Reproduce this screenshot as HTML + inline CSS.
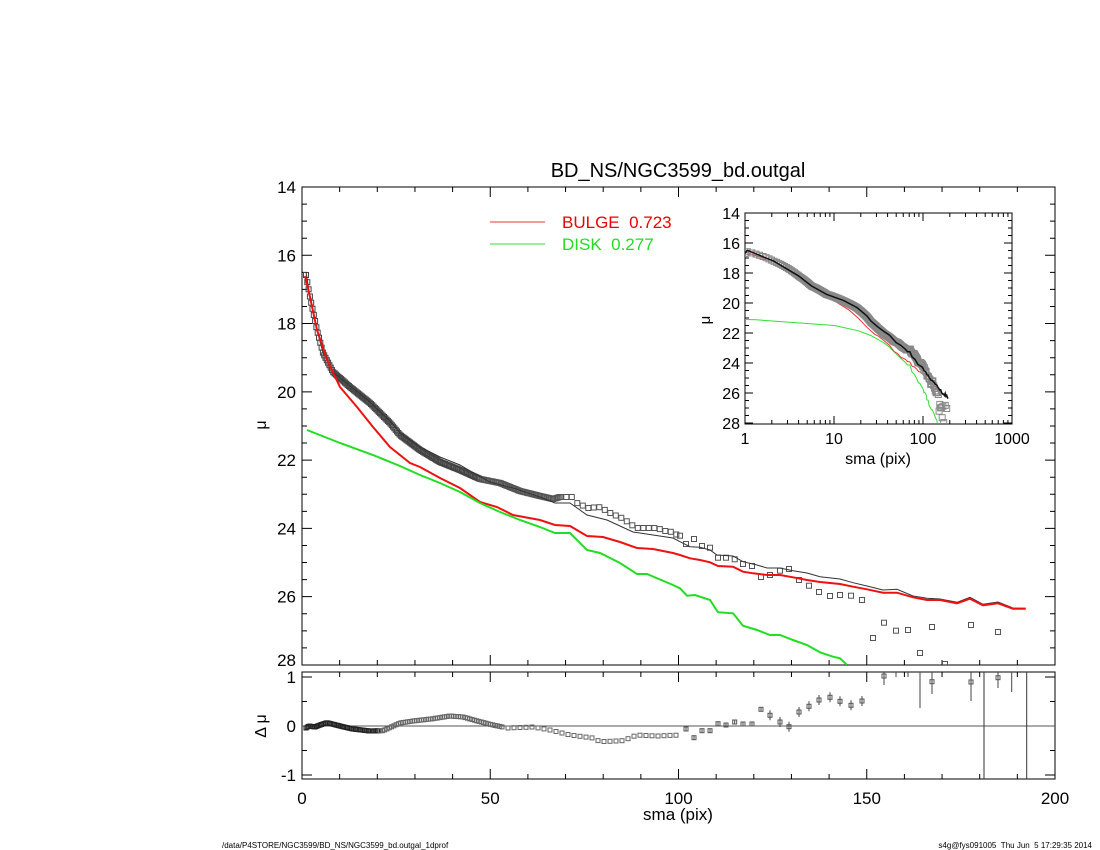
<!DOCTYPE html>
<html><head><meta charset="utf-8"><style>
html,body{margin:0;padding:0;background:#fff}
svg{display:block;font-family:"Liberation Sans",sans-serif}
</style></head><body>
<svg id="s" width="1100" height="850" viewBox="0 0 1100 850" xmlns="http://www.w3.org/2000/svg">
<text x="678" y="177" font-size="20" text-anchor="middle">BD_NS/NGC3599_bd.outgal</text>
<line x1="490" y1="222" x2="545" y2="222" stroke="#e33" stroke-width="1"/>
<text x="562" y="228" font-size="17" fill="#e00">BULGE&#160;&#160;0.723</text>
<line x1="490" y1="244" x2="545" y2="244" stroke="#3d3" stroke-width="1"/>
<text x="562" y="250" font-size="17" fill="#2d2">DISK&#160;&#160;0.277</text>
<text x="678" y="820" font-size="17" text-anchor="middle">sma (pix)</text>
<text x="266" y="425" font-size="16" text-anchor="middle" transform="rotate(-90 266 425)">μ</text>
<text x="266" y="726" font-size="16" text-anchor="middle" transform="rotate(-90 266 726)">Δ μ</text>
<text x="878" y="464" font-size="16" text-anchor="middle">sma (pix)</text>
<text x="710" y="320" font-size="15" text-anchor="middle" transform="rotate(-90 710 320)">μ</text>
<text x="222" y="848" font-size="8">/data/P4STORE/NGC3599/BD_NS/NGC3599_bd.outgal_1dprof</text>
<text x="1092" y="848" font-size="8" text-anchor="end">s4g@fys091005&#160;&#160;Thu Jun&#160;&#160;5 17:29:35 2014</text>
<g id="g"></g>
</svg>
<script>
var g=document.getElementById('g'),out='';
function X(r){return 302+r*3.765}function Y(m){return 187+(m-14)*34.14}
function iR(x){return (x-302)/3.765}function iM(y){return (y-187)/34.14+14}
function IX(r){return 745+89*Math.log10(r)}function IY(m){return 213+15*(m-14)}
function pl(p,c,w){out+='<polyline fill="none" stroke="'+c+'" stroke-width="'+w+'" points="'+p.map(function(a){return a[0].toFixed(1)+','+a[1].toFixed(1)}).join(' ')+'"/>';}
function sq(x,y,s,c){out+='<rect x="'+(x-s/2).toFixed(1)+'" y="'+(y-s/2).toFixed(1)+'" width="'+s+'" height="'+s+'" fill="none" stroke="'+c+'" stroke-width="1"/>';}
function interp(p,x){for(var i=0;i<p.length-1;i++){if(x>=p[i][0]&&x<=p[i+1][0]){var t=(x-p[i][0])/(p[i+1][0]-p[i][0]);return p[i][1]+t*(p[i+1][1]-p[i][1]);}}return null;}
var dat=[[306,275],[310,297],[317,330],[323,353],[333,372],[350,387],[370,403],[390,423],[400,435],[420,450],[440,462],[460,470],[480,479],[500,483],[520,491],[540,496],[553,499],[560,497],[572,497],[577,503],[588,508],[599,507],[605,510],[612,514],[617,516],[624,519],[630,524],[637,528],[657,528],[665,531],[672,532],[679,536]];
var dat2=[[680,535.7],[686,544],[694,539],[702,546],[710,547.7],[718,557.7],[726,557.7],[734.7,559.3],[743,564],[752,566],[761,577],[770,575],[780,570.7],[789,569],[799,580],[809,585.7],[819,592],[830,596],[840,595],[851,595.7],[862,600],[873,638],[884,622.7],[896,630.7],[908,630],[920,653],[932,627],[945,664],[971,625],[998,632]];
var blk=[[306,272],[310,297],[317,330],[323,353],[333,372],[350,386],[370,402],[390,421],[400,433],[420,447],[440,457],[460,465],[477,475],[490,482],[513,488],[540,497],[555,503],[570,503],[587,515],[607,520],[633,532],[653,535],[673,538],[680,541.7],[690,546.7],[700,547.3],[710,550],[717,555],[733,556],[743,561.7],[757,565],[767,568],[780,568],[793,570.7],[807,573],[820,576.7],[840,579],[853,582.7],[867,586],[883,590],[897,589.3],[913,596],[927,598.3],[940,599],[957,602.3],[970,597.3],[983,604.3],[998,602],[1013,608],[1025.7,608.3]];
var red=[[305,276],[310,297],[317,330],[327,360],[340,387],[357,407],[373,427],[390,447],[410,463],[420,467],[440,478],[460,488],[480,502],[497,507],[513,515],[540,520],[555,525],[570,526],[587,536],[603,537],[620,542],[637,548],[653,549],[673,553],[680,555],[690,558.3],[700,560],[710,562.3],[718,566],[733,566.7],[743,571.7],[753,573.3],[767,575],[780,575],[793,577.3],[807,580],[820,582],[840,584],[853,586.7],[867,589.3],[883,592.7],[897,592.7],[913,597.3],[927,600],[940,600],[957,603.3],[970,598.7],[983,605.3],[998,603.3],[1013,608.7],[1025.7,608.7]];
var grn=[[307,430],[340,443],[373,455],[400,466],[420,475],[440,483],[460,492],[480,503],[500,512],[520,520],[540,527],[555,533],[570,533],[587,550],[600,553],[620,563],[637,574],[647,574],[673,585],[680,588.3],[687,595.7],[695,595],[710,600],[718,612.3],[733,613.3],[743,625.7],[757,630],[770,635],[780,635],[793,640],[807,645],[820,652.3],[833,656.7],[840,658.3],[847,665]];
out+='<defs><clipPath id="cm"><rect x="302" y="187" width="753" height="478"/></clipPath><clipPath id="ci"><rect x="745" y="213" width="267" height="211"/></clipPath></defs>';
function frame(x0,y0,x1,y1){out+='<rect x="'+x0+'" y="'+y0+'" width="'+(x1-x0)+'" height="'+(y1-y0)+'" fill="none" stroke="#000" stroke-width="1"/>';}
frame(302,187,1055,665);frame(302,672,1055,779);frame(745,213,1012,424);
var t='';
for(var r=0;r<=200;r+=10){var x=X(r),L=(r%50==0)?10:5;
 t+='M'+x+' 665v-'+L+'M'+x+' 187v'+L+'M'+x+' 779v-'+L+'M'+x+' 672v'+L;}
for(var m=14;m<=28;m+=0.5){var y=Y(m),L=(m%2==0)?10:5;t+='M302 '+y+'h'+L+'M1055 '+y+'h-'+L;}
for(var d=-1;d<=1;d+=0.5){var y=726-d*49,L=(d%1==0)?10:5;t+='M302 '+y+'h'+L+'M1055 '+y+'h-'+L;}
for(var dec=0;dec<3;dec++)for(var k=1;k<10;k++){var x=IX(k*Math.pow(10,dec)),L=k==1?8:4;t+='M'+x+' 424v-'+L+'M'+x+' 213v'+L;}
for(var m=14;m<=28;m+=0.5){var y=IY(m),L=(m%2==0)?8:4;t+='M745 '+y+'h'+L+'M1012 '+y+'h-'+L;}
out+='<path d="'+t+'" stroke="#000" stroke-width="1" fill="none"/>';
var lab='';
[0,50,100,150,200].forEach(function(r){lab+='<text x="'+X(r)+'" y="804" font-size="17" text-anchor="middle">'+r+'</text>';});
for(var m=14;m<=28;m+=2){var yy=Y(m)+6;if(m==28)yy=Y(m)+1;lab+='<text x="296" y="'+yy+'" font-size="17" text-anchor="end">'+m+'</text>';}
[[1,726-49],[0,726],[-1,726+49]].forEach(function(a){lab+='<text x="296" y="'+(a[1]+6)+'" font-size="17" text-anchor="end">'+a[0]+'</text>';});
for(var m=14;m<=28;m+=2)lab+='<text x="740" y="'+(IY(m)+6)+'" font-size="16" text-anchor="end">'+m+'</text>';
[[1,'1'],[10,'10'],[100,'100'],[1000,'1000']].forEach(function(a){lab+='<text x="'+IX(a[0])+'" y="444" font-size="16" text-anchor="middle">'+a[1]+'</text>';});
out+=lab;
out+='<g clip-path="url(#cm)">';
for(var x=306;x<=679;x+=(x<560?1.3:5.5)){var y=interp(dat,x);if(y!=null)sq(x,y,5,x<480?'#444':'#555');}
dat2.forEach(function(p){sq(p[0],p[1],5,'#555');});
pl(blk,'#333',1);pl(red,'#e11',2);pl(grn,'#2d2',2);
out+='</g>';
function conv(p){return p.map(function(a){var r=iR(a[0]);if(r<1)r=1;return [IX(r),IY(iM(a[1]))];});}
out+='<g clip-path="url(#ci)">';
var ig=conv(grn);ig.unshift([IX(1),IY(21.1)]);
pl(ig,'#3d3',1);
var ir=conv(red);ir.unshift([IX(1),IY(16.75)]);pl(ir,'#e33',1);
var idat=[[IX(1),IY(16.7)]];
for(var x=306;x<=679;x+=0.5){var y=interp(dat,x);idat.push([IX(iR(x)),IY(iM(y))]);}
idat.forEach(function(p){sq(p[0],p[1],6,'#888');});
conv(dat2).forEach(function(p){sq(p[0],p[1],6,'#888');});
var ib=conv(blk);ib.unshift([IX(1),IY(16.7)]);pl(ib,'#111',1.5);
out+='</g>';
out+='<line x1="302" y1="726" x2="1055" y2="726" stroke="#555" stroke-width="1"/>';
var res=[[306,728],[309,726],[315,727],[320,725],[327,722.7],[340,726],[353,729],[370,731],[383,730.7],[400,723],[413,721],[433,718.7],[450,716],[463,717],[480,721.7],[493,725],[507,728],[533,727],[550,730],[570,735],[593,738],[600,741.7],[623,740.7],[637,735],[657,736],[680,735]];
for(var x=306;x<=680;x+=(x<380?1.3:(x<500?2.3:6))){var y=interp(res,x);if(y!=null)sq(x,y,4,x<380?'#222':'#666');}
var res2=[[686,729],[694,737.7],[702,730.7],[710,730.7],[718,723.7],[726,725],[734.7,722],[743,724],[752,724],[761,709.3],[770,715.3],[780,722],[789,726.7],[799,712],[809,706.3],[819,700],[830,697.3],[840,701.3],[851,705.3],[862,701]];
res2.forEach(function(p,i){var e=i<10?2:5;out+='<line x1="'+p[0]+'" y1="'+(p[1]-e)+'" x2="'+p[0]+'" y2="'+(p[1]+e)+'" stroke="#444"/>';sq(p[0],p[1],4,'#555');});
var bars=[[884,672,685],[896,672,677],[908,672,677],[920,672,708],[932,672,694],[971,672,701],[998,672,688],[1011.7,672,692]];
bars.forEach(function(b){out+='<line x1="'+b[0]+'" y1="'+b[1]+'" x2="'+b[0]+'" y2="'+b[2]+'" stroke="#444"/>';});
[[884,676],[932,681.7],[971,682],[998,677.7]].forEach(function(p){sq(p[0],p[1],4,'#555');});
out+='<line x1="984" y1="672" x2="984" y2="779" stroke="#333"/><line x1="1026.7" y1="672" x2="1026.7" y2="779" stroke="#333"/>';
g.innerHTML=out;
</script>
</body></html>
